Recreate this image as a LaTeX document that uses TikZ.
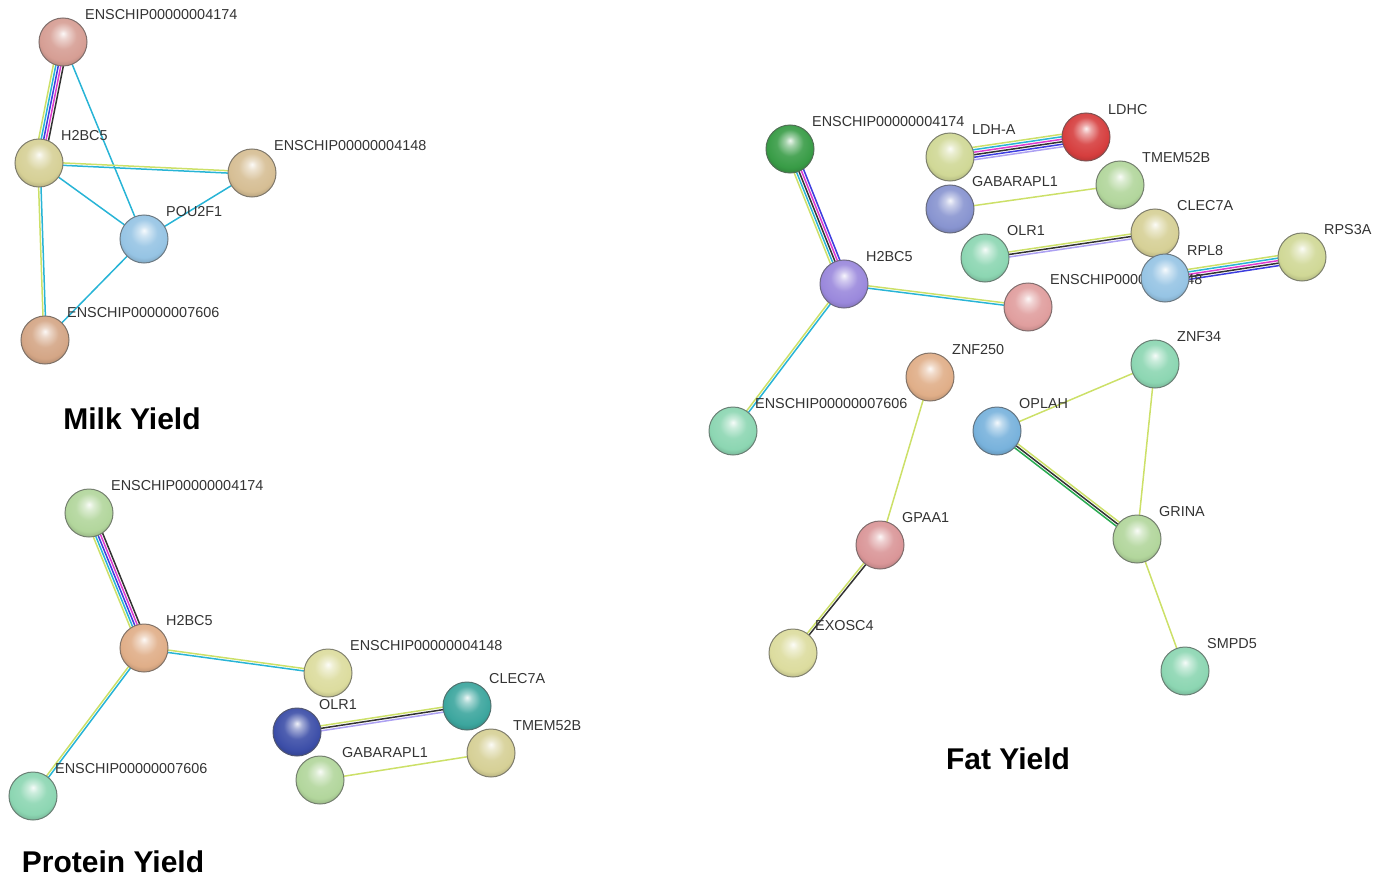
\documentclass[tikz,border=0pt]{standalone}
\usepackage{fontspec}
\setmainfont{Liberation Sans}
\usetikzlibrary{calc,positioning}
\pgfdeclarelayer{bg}
\pgfsetlayers{bg,main}

% ball colours
\definecolor{cRose}{RGB}{214,158,148}
\definecolor{cKhaki}{RGB}{214,208,150}
\definecolor{cTan}{RGB}{214,190,148}
\definecolor{cSky}{RGB}{150,196,228}
\definecolor{cBrown}{RGB}{212,166,134}
\definecolor{cLeaf}{RGB}{178,214,156}
\definecolor{cPeach}{RGB}{224,174,136}
\definecolor{cCream}{RGB}{220,220,158}
\definecolor{cTeal}{RGB}{60,166,158}
\definecolor{cNavy}{RGB}{60,78,168}
\definecolor{cMint}{RGB}{140,214,178}
\definecolor{cGreen}{RGB}{56,156,70}
\definecolor{cRed}{RGB}{214,62,62}
\definecolor{cLav}{RGB}{136,148,208}
\definecolor{cPurple}{RGB}{154,136,220}
\definecolor{cSalmon}{RGB}{224,158,158}
\definecolor{cBlue}{RGB}{120,178,220}
\definecolor{cPink}{RGB}{218,150,152}
\definecolor{cLime}{RGB}{208,216,150}
% evidence colours
\definecolor{evText}{RGB}{204,224,104}
\definecolor{evDb}{RGB}{40,180,214}
\definecolor{evExp}{RGB}{222,60,206}
\definecolor{evCoex}{RGB}{50,50,50}
\definecolor{evHom}{RGB}{172,160,242}
\definecolor{evCooc}{RGB}{60,60,222}
\definecolor{evNbh}{RGB}{40,170,80}

% glossy sphere, lit from the top
\makeatletter
\pgfdeclareradialshading[tikz@ball]{strball}{\pgfqpoint{0bp}{9bp}}{%
  color(0bp)=(tikz@ball!8!white);
  color(5bp)=(tikz@ball!45!white);
  color(14bp)=(tikz@ball!90!white);
  color(24bp)=(tikz@ball);
  color(31bp)=(tikz@ball!80!black);
  color(50bp)=(tikz@ball!70!black)}
\makeatother

\tikzset{
  gene/.style={circle, minimum size=48pt, inner sep=0pt, ball color=#1,
    shading=strball, draw=#1!40!black!75, line width=1pt},
  glabel/.style={font=\fontsize{14.4pt}{14pt}\selectfont, text=black!80, inner sep=0pt},
  gtitle/.style={font=\fontsize{30pt}{30pt}\selectfont\bfseries, inner sep=0pt},
  evline/.style={line width=1.5pt}
}

% a protein ball with its name above right
\newcommand{\gene}[4]{%
  \node[gene=#3] (#1) at (#2) {};
  \node[glabel, right=22pt of #1.center, yshift=27pt] (#1-t) {#4};}
% parallel evidence lines: colour/offset
\newcommand{\evlink}[3]{%
  \foreach \col/\off in {#3} {
    \draw[evline, \col] ($(#1)!\off!90:(#2)$) -- ($(#2)!\off!-90:(#1)$);
  }}

\begin{document}
\begin{tikzpicture}[x=1pt, y=-1pt]
\useasboundingbox (0,0) rectangle (1384,880);

% Milk Yield
\gene{m4174}{63,42}{cRose}{ENSCHIP00000004174}
\gene{mh2bc5}{39,163}{cKhaki}{H2BC5}
\gene{m4148}{252,173}{cTan}{ENSCHIP00000004148}
\gene{mpou}{144,239}{cSky}{POU2F1}
\gene{m7606}{45,340}{cBrown}{ENSCHIP00000007606}
\node[gtitle] (mtitle) at (132,419) {Milk Yield};

% Protein Yield
\gene{p4174}{89,513}{cLeaf}{ENSCHIP00000004174}
\gene{ph2bc5}{144,648}{cPeach}{H2BC5}
\gene{p4148}{328,673}{cCream}{ENSCHIP00000004148}
\gene{pclec}{467,706}{cTeal}{CLEC7A}
\gene{ptmem}{491,753}{cKhaki}{TMEM52B}
\gene{pgab}{320,780}{cLeaf}{GABARAPL1}
\gene{polr}{297,732}{cNavy}{OLR1}
\gene{p7606}{33,796}{cMint}{ENSCHIP00000007606}
\node[gtitle] (ptitle) at (113,862) {Protein Yield};

% Fat Yield
\gene{f4174}{790,149}{cGreen}{ENSCHIP00000004174}
\gene{fldha}{950,157}{cLime}{LDH-A}
\gene{fldhc}{1086,137}{cRed}{LDHC}
\gene{ftmem}{1120,185}{cLeaf}{TMEM52B}
\gene{fgab}{950,209}{cLav}{GABARAPL1}
\gene{folr}{985,258}{cMint}{OLR1}
\gene{f4148}{1028,307}{cSalmon}{ENSCHIP00000004148}
\gene{fclec}{1155,233}{cKhaki}{CLEC7A}
\gene{frps}{1302,257}{cLime}{RPS3A}
\gene{frpl}{1165,278}{cSky}{RPL8}
\gene{fh2bc5}{844,284}{cPurple}{H2BC5}
\gene{fznf250}{930,377}{cPeach}{ZNF250}
\gene{fznf34}{1155,364}{cMint}{ZNF34}
\gene{foplah}{997,431}{cBlue}{OPLAH}
\gene{f7606}{733,431}{cMint}{ENSCHIP00000007606}
\gene{fgpaa}{880,545}{cPink}{GPAA1}
\gene{fgrina}{1137,539}{cLeaf}{GRINA}
\gene{fexosc}{793,653}{cCream}{EXOSC4}
\gene{fsmpd}{1185,671}{cMint}{SMPD5}
\node[gtitle] (ftitle) at (1008,759) {Fat Yield};

\begin{pgfonlayer}{bg}
\evlink{m4174}{mh2bc5}{evText/-5pt,evDb/-2.5pt,evCooc/0pt,evExp/2.5pt,evCoex/5pt}
\evlink{m4174}{mpou}{evDb/0pt}
\evlink{mh2bc5}{m4148}{evText/1.2pt,evDb/-1.2pt}
\evlink{mh2bc5}{mpou}{evDb/0pt}
\evlink{mh2bc5}{m7606}{evText/-1.2pt,evDb/1.2pt}
\evlink{m4148}{mpou}{evDb/0pt}
\evlink{mpou}{m7606}{evDb/0pt}

\evlink{p4174}{ph2bc5}{evText/-5pt,evDb/-2.5pt,evCooc/0pt,evExp/2.5pt,evCoex/5pt}
\evlink{ph2bc5}{p4148}{evText/1.2pt,evDb/-1.2pt}
\evlink{ph2bc5}{p7606}{evText/-1.2pt,evDb/1.2pt}
\evlink{polr}{pclec}{evText/2.5pt,evCoex/0pt,evHom/-2.5pt}
\evlink{pgab}{ptmem}{evText/0pt}

\evlink{f4174}{fh2bc5}{evText/-5pt,evDb/-2.5pt,evCoex/0pt,evExp/2.5pt,evCooc/5pt}
\evlink{fh2bc5}{f4148}{evText/1.2pt,evDb/-1.2pt}
\evlink{fh2bc5}{f7606}{evText/-1.2pt,evDb/1.2pt}
\evlink{fldha}{fldhc}{evText/6.25pt,evDb/3.75pt,evExp/1.25pt,evCoex/-1.25pt,evCooc/-3.75pt,evHom/-6.25pt}
\evlink{fgab}{ftmem}{evText/0pt}
\evlink{folr}{fclec}{evText/2.5pt,evCoex/0pt,evHom/-2.5pt}
\evlink{frpl}{frps}{evText/5pt,evDb/2.5pt,evExp/0pt,evCoex/-2.5pt,evCooc/-5pt}
\evlink{fznf250}{fgpaa}{evText/0pt}
\evlink{fgpaa}{fexosc}{evText/-1.2pt,evCoex/1.2pt}
\evlink{foplah}{fznf34}{evText/0pt}
\evlink{fznf34}{fgrina}{evText/0pt}
\evlink{foplah}{fgrina}{evText/2.5pt,evCoex/0pt,evNbh/-2.5pt}
\evlink{fgrina}{fsmpd}{evText/0pt}
\end{pgfonlayer}
\end{tikzpicture}
\end{document}
